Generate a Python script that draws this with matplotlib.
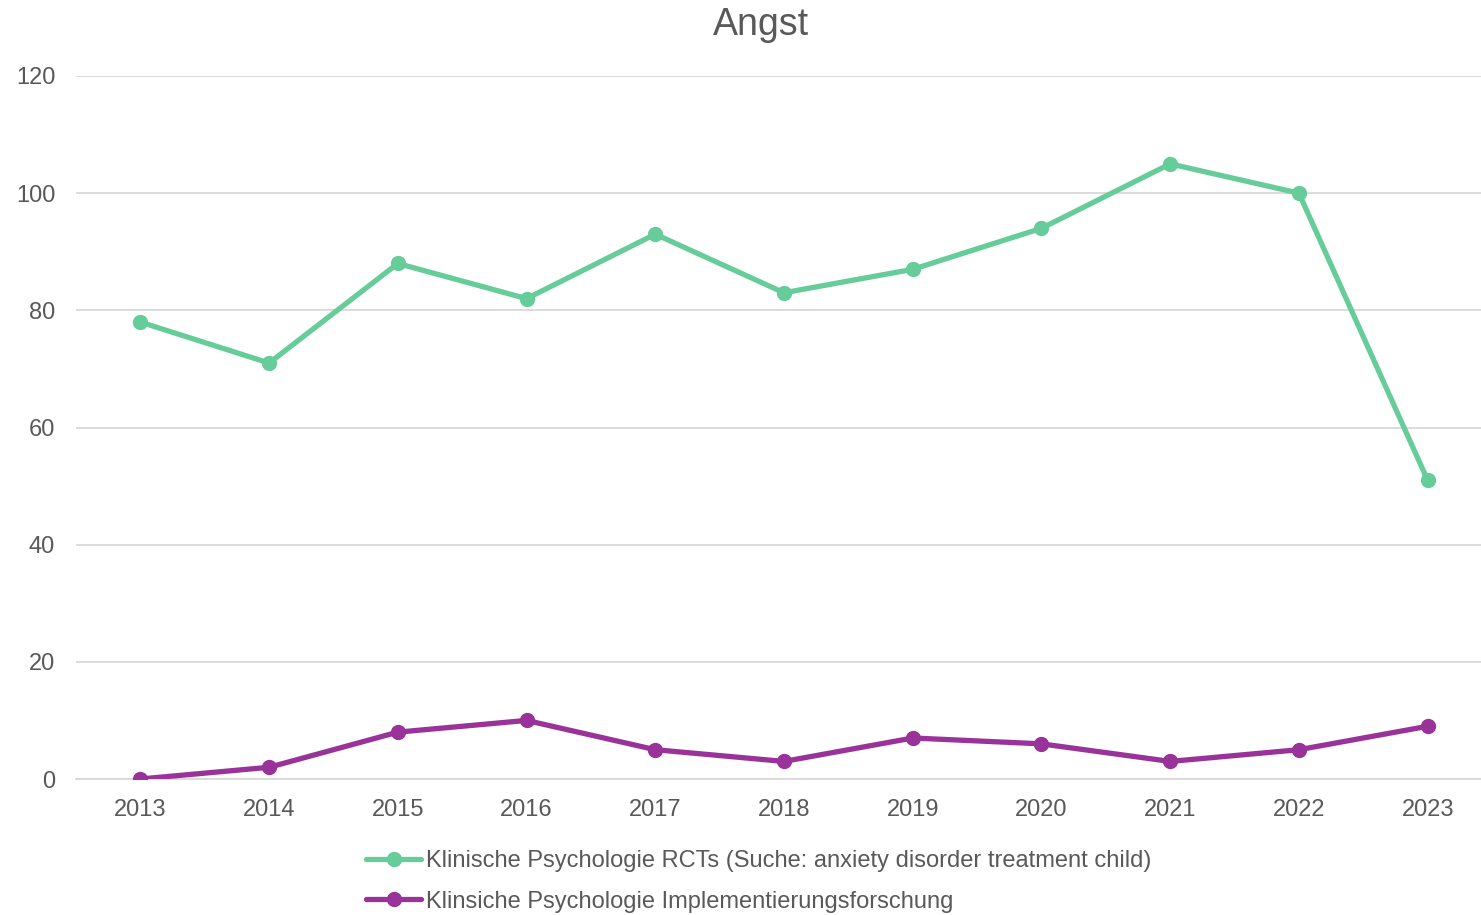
import matplotlib
matplotlib.use("Agg")
import matplotlib.pyplot as plt

plt.rcParams["font.family"] = ["Liberation Sans", "DejaVu Sans"]

jahre = ["2013", "2014", "2015", "2016", "2017", "2018", "2019", "2020", "2021", "2022", "2023"]
rcts = [78, 71, 88, 82, 93, 83, 87, 94, 105, 100, 51]
implementierung = [0, 2, 8, 10, 5, 3, 7, 6, 3, 5, 9]

label_rcts = "Klinische Psychologie RCTs (Suche: anxiety disorder treatment child)"
label_impl = "Klinsiche Psychologie Implementierungsforschung"

GRUEN = "#66CC99"
LILA = "#993399"
TEXT = "#595959"
GITTER = "#D9D9D9"

fig = plt.figure(figsize=(14.81, 9.15), dpi=100)
# Zeichenfläche reicht rechts etwas über den Rand hinaus
ax = fig.add_axes([76 / 1481, 1 - 779 / 915, 1416 / 1481, (779 - 76) / 915])

x = list(range(len(jahre)))
ax.plot(x, rcts, color=GRUEN, lw=3.8, marker="o", ms=10, label=label_rcts,
        solid_capstyle="round", zorder=3)
ax.plot(x, implementierung, color=LILA, lw=3.8, marker="o", ms=10, label=label_impl,
        solid_capstyle="round", zorder=3)

ax.set_xlim(-0.5, len(jahre) - 0.5)
ax.set_ylim(0, 120)
ax.set_yticks(range(0, 121, 20))
ax.set_xticks(x)
ax.set_xticklabels(jahre)
ax.yaxis.grid(True, color=GITTER, lw=1.3)
ax.set_axisbelow(True)
for s in ["top", "right", "left"]:
    ax.spines[s].set_visible(False)
ax.spines["bottom"].set_color(GITTER)
ax.spines["bottom"].set_linewidth(1.3)
ax.tick_params(axis="both", length=0, labelsize=17, labelcolor=TEXT)
ax.tick_params(axis="y", pad=15)
ax.tick_params(axis="x", pad=14.5)

fig.text(761 / 1481, 1 - 25 / 915, "Angst", ha="center", va="center",
         fontsize=27, color=TEXT)

leg = fig.legend(loc="upper left", bbox_to_anchor=(354 / 1481, 1 - 838 / 915),
                 frameon=False, fontsize=17, labelcolor=TEXT, handlelength=2.35,
                 handletextpad=0.2, labelspacing=0.8, borderpad=0)

fig.savefig("out.png", dpi=100)
